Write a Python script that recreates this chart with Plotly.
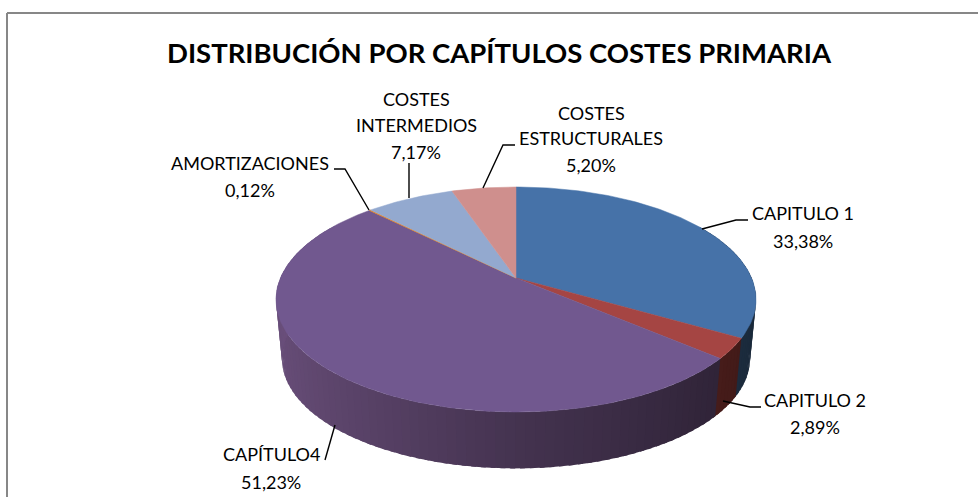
import math
import plotly.graph_objects as go

# ---- data ----
categories = ["CAPITULO 1", "CAPITULO 2", "CAPÍTULO4", "AMORTIZACIONES",
              "COSTES INTERMEDIOS", "COSTES ESTRUCTURALES"]
values = [33.38, 2.89, 51.23, 0.12, 7.17, 5.20]
value_labels = ["33,38%", "2,89%", "51,23%", "0,12%", "7,17%", "5,20%"]
top_colors = ["#4672A8", "#A54543", "#71588F", "#E8821F", "#93A9CF", "#CF8F8D"]
title_text = "DISTRIBUCIÓN POR CAPÍTULOS COSTES PRIMARIA"
label_lines = [["CAPITULO 1"], ["CAPITULO 2"], ["CAPÍTULO4"], ["AMORTIZACIONES"],
               ["COSTES", "INTERMEDIOS"], ["COSTES", "ESTRUCTURALES"]]

# ---- layout constants (pixel-like plot units) ----
W, H = 978, 497
CX, CY = 516, 278
A, B, K = 235.6, 108.4, 0.191
DROP, SHRINK = 59.8, 0.975
TITLE_FONT = "Lato"
LABEL_FONT = "Lato"

label_pos = [(803, [213, 241]), (815, [400, 427]), (271, [454, 482]),
             (250, [163, 190]), (416, [99, 125, 152]), (591, [113, 138, 165])]
leaders = [
    [(702, 229), (736, 220), (748, 220)],
    [(723, 401), (750, 407), (761, 407)],
    [(335, 425), (325, 460)],
    [(334, 169), (345, 169), (369, 210)],
    [(409, 163), (409, 198)],
    [(515, 145), (503, 145), (483, 188)],
]


def project(deg, bottom=False):
    t = math.radians(deg)
    u, v = math.sin(t), math.cos(t)
    w = 1 + K * v
    x, y = A * u / w, -B * v / w
    if bottom:
        return CX + SHRINK * x, CY + DROP + SHRINK * y
    return CX + x, CY + y


def hex_rgb(c):
    return tuple(int(c[i:i + 2], 16) for i in (1, 3, 5))


def side_color(c, deg):
    # light falls from the left: brightest at the left tangent, darkest right
    s = (math.sin(math.radians(deg)) + 1) / 2
    if s < 0.5:
        f = 0.93 - 0.64 * s
    else:
        f = 0.61 - 0.24 * (s - 0.5) / 0.5
    r, g, b = hex_rgb(c)
    return f"rgb({int(r * f)},{int(g * f * 0.96)},{int(b * f * 0.92)})"


fig = go.Figure()

edges = [0.0]
for val in values:
    edges.append(edges[-1] + val / sum(values) * 360)

# side wall, as overlapping narrow strips so the shading runs along it without seams
STEP = 2.0
for i, col in enumerate(top_colors):
    a0, a1 = edges[i], edges[i + 1]
    n = max(1, int(math.ceil((a1 - a0) / STEP)))
    for j in range(n):
        d0 = a0 + (a1 - a0) * j / n
        d1 = a0 + (a1 - a0) * (j + 1) / n
        if d1 < 60 or d0 > 300:
            continue
        d2 = d1 + 1.0
        p = [project(d0), project(d2), project(d2, True), project(d0, True)]
        shade = side_color(col, (d0 + d1) / 2)
        fig.add_trace(go.Scatter(x=[q[0] for q in p] + [p[0][0]],
                                 y=[q[1] for q in p] + [p[0][1]],
                                 mode="lines", fill="toself", fillcolor=shade,
                                 line=dict(color=shade, width=0),
                                 hoverinfo="skip", showlegend=False))

# top face
for i, col in enumerate(top_colors):
    a0, a1 = edges[i], edges[i + 1]
    n = max(2, int((a1 - a0) / 1.0))
    rim = [project(a0 + (a1 - a0) * j / n) for j in range(n + 1)]
    xs = [CX] + [q[0] for q in rim] + [CX]
    ys = [CY] + [q[1] for q in rim] + [CY]
    fig.add_trace(go.Scatter(x=xs, y=ys, mode="lines", fill="toself", fillcolor=col,
                             line=dict(color=col, width=0.5),
                             name=categories[i], text=value_labels[i],
                             hoverinfo="name+text", showlegend=False))

# leader lines
for pts in leaders:
    fig.add_trace(go.Scatter(x=[q[0] for q in pts], y=[q[1] for q in pts], mode="lines",
                             line=dict(color="#000000", width=1.4),
                             hoverinfo="skip", showlegend=False))

annotations = [dict(x=499, y=52, text="<b>" + title_text + "</b>", showarrow=False,
                    font=dict(family=TITLE_FONT, size=27.5, color="#000000"),
                    xanchor="center", yanchor="middle")]
for lines, val, (x, ys) in zip(label_lines, value_labels, label_pos):
    for line, y in zip(lines + [val], ys):
        annotations.append(dict(x=x, y=y, text=line, showarrow=False,
                                font=dict(family=LABEL_FONT, size=18, color="#000000"),
                                xanchor="center", yanchor="middle"))

fig.update_layout(
    width=W, height=H, margin=dict(l=0, r=0, t=0, b=0),
    paper_bgcolor="#ffffff", plot_bgcolor="#ffffff", showlegend=False,
    xaxis=dict(range=[0, W], visible=False, fixedrange=True),
    yaxis=dict(range=[H, 0], visible=False, fixedrange=True),
    annotations=annotations,
    shapes=[dict(type="line", x0=7, y0=13, x1=W, y1=13, line=dict(color="#878787", width=2)),
            dict(type="line", x0=7, y0=13, x1=7, y1=H, line=dict(color="#878787", width=2))],
)
fig.write_html("out.html", config=dict(displayModeBar=False),
               post_script="document.body.style.margin='0';document.body.style.overflow='hidden';")
